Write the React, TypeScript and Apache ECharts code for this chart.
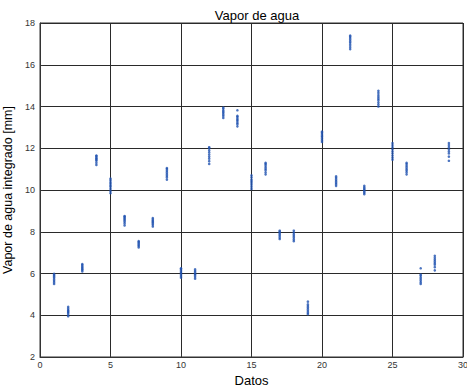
import React, { useEffect, useRef } from "react";
import * as echarts from "echarts";

const xTicks = [0, 5, 10, 15, 20, 25, 30];
const yTicks = [2, 4, 6, 8, 10, 12, 14, 16, 18];

// readings per sample (Datos index -> measured values)
const samples: number[] = [1, 2, 3, 4, 5, 6, 7, 8, 9, 10, 11, 12, 13, 14, 15, 16, 17, 18, 19, 20, 21, 22, 23, 24, 25, 26, 27, 28, 29];
const readings: number[][] = [
  [5.5, 5.58, 5.65, 5.72, 5.8, 5.86, 5.92, 5.98],
  [3.95, 4.02, 4.1, 4.15, 4.2, 4.25, 4.32, 4.4],
  [6.1, 6.17, 6.22, 6.28, 6.33, 6.4, 6.45],
  [11.2, 11.3, 11.4, 11.45, 11.5, 11.55, 11.62, 11.65],
  [9.85, 9.95, 10.05, 10.15, 10.22, 10.3, 10.38, 10.47, 10.55],
  [8.3, 8.4, 8.48, 8.55, 8.6, 8.66, 8.72, 8.75],
  [7.25, 7.32, 7.38, 7.44, 7.5, 7.55],
  [8.25, 8.33, 8.4, 8.46, 8.52, 8.58, 8.65],
  [10.5, 10.6, 10.68, 10.76, 10.84, 10.92, 11.0, 11.05],
  [5.8, 5.88, 5.95, 6.02, 6.08, 6.15, 6.22, 6.25],
  [5.75, 5.84, 5.92, 5.98, 6.05, 6.12, 6.2],
  [11.25, 11.38, 11.5, 11.6, 11.7, 11.8, 11.9, 12.0, 12.05],
  [13.45, 13.55, 13.62, 13.7, 13.76, 13.82, 13.9, 13.95],
  [13.05, 13.15, 13.22, 13.3, 13.36, 13.42, 13.5, 13.55, 13.82],
  [10.05, 10.15, 10.25, 10.34, 10.42, 10.5, 10.6, 10.7],
  [10.75, 10.85, 10.95, 11.02, 11.1, 11.18, 11.25, 11.3],
  [7.65, 7.72, 7.8, 7.87, 7.94, 8.0, 8.05],
  [7.55, 7.63, 7.72, 7.8, 7.88, 7.96, 8.05],
  [4.05, 4.12, 4.2, 4.28, 4.36, 4.44, 4.52, 4.65],
  [12.3, 12.38, 12.46, 12.54, 12.6, 12.68, 12.75, 12.8],
  [10.2, 10.28, 10.35, 10.42, 10.5, 10.58, 10.65],
  [16.75, 16.85, 16.95, 17.05, 17.12, 17.2, 17.28, 17.35, 17.4],
  [9.8, 9.87, 9.93, 10.0, 10.06, 10.12, 10.2],
  [14.0, 14.1, 14.2, 14.3, 14.38, 14.46, 14.55, 14.65, 14.75],
  [11.45, 11.55, 11.65, 11.75, 11.85, 11.95, 12.05, 12.15, 12.25],
  [10.75, 10.85, 10.93, 11.0, 11.08, 11.16, 11.24, 11.3],
  [5.5, 5.58, 5.66, 5.74, 5.82, 5.9, 5.95, 6.25],
  [6.15, 6.3, 6.42, 6.5, 6.58, 6.66, 6.75, 6.85],
  [11.4, 11.6, 11.75, 11.85, 11.95, 12.05, 12.15, 12.25],
];

export default function App() {
  const ref = useRef<HTMLDivElement>(null);
  useEffect(() => {
    if (!ref.current) return;
    const chart = echarts.init(ref.current, undefined, { renderer: "svg" });
    const points: number[][] = [];
    samples.forEach((x, i) => readings[i].forEach((y) => points.push([x, y])));
    const font = "Liberation Sans, Arial, Helvetica, sans-serif";
    chart.setOption({
      animation: false,
      backgroundColor: "#ffffff",
      title: {
        text: "Vapor de agua",
        left: 252,
        top: 4,
        textAlign: "center",
        textStyle: { fontFamily: font, fontSize: 13, fontWeight: "normal", color: "#000" },
      },
      grid: {
        left: 40,
        right: 4,
        top: 23,
        bottom: 33,
        outerBoundsMode: "none",
        containLabel: false,
        show: true,
        borderColor: "#333",
        borderWidth: 1,
        backgroundColor: "#fff",
      },
      xAxis: {
        type: "value",
        min: xTicks[0],
        max: xTicks[xTicks.length - 1],
        interval: 5,
        name: "Datos",
        nameLocation: "middle",
        nameGap: 15,
        nameTextStyle: { fontFamily: font, fontSize: 13, color: "#000" },
        axisLine: { show: true, lineStyle: { color: "#333", width: 1 } },
        axisTick: { show: true, inside: true, length: 3, lineStyle: { color: "#333" } },
        axisLabel: { fontFamily: font, fontSize: 9, color: "#333", margin: 3 },
        splitLine: { show: true, lineStyle: { color: "#2a2a2a", width: 1 } },
      },
      yAxis: {
        type: "value",
        min: yTicks[0],
        max: yTicks[yTicks.length - 1],
        interval: 2,
        name: "Vapor de agua integrado [mm]",
        nameLocation: "middle",
        nameGap: 16,
        nameTextStyle: { fontFamily: font, fontSize: 12.5, color: "#000" },
        axisLine: { show: true, lineStyle: { color: "#333", width: 1 } },
        axisTick: { show: true, inside: true, length: 3, lineStyle: { color: "#333" } },
        axisLabel: { fontFamily: font, fontSize: 9, color: "#333", margin: 5 },
        splitLine: { show: true, lineStyle: { color: "#2a2a2a", width: 1 } },
      },
      series: [
        {
          type: "scatter",
          data: points,
          symbol: "circle",
          symbolSize: 2.6,
          itemStyle: { color: "#2152b0" },
        },
      ],
    });
    return () => chart.dispose();
  }, []);
  return <div ref={ref} style={{ width: 467, height: 390, position: "absolute", left: 0, top: 0 }} />;
}
